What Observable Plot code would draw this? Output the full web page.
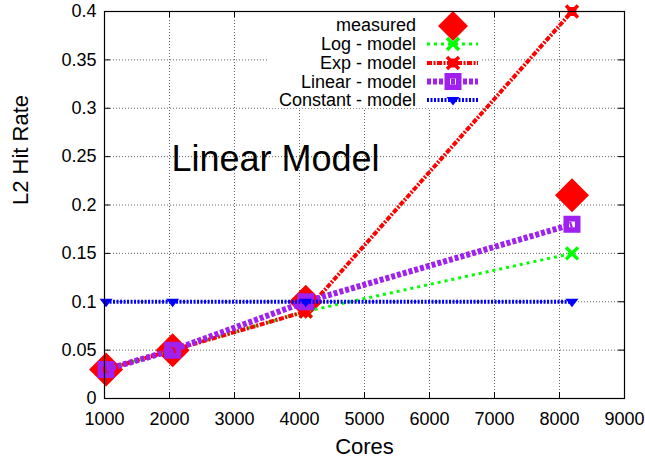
<!DOCTYPE html>
<html>
<head>
<meta charset="utf-8">
<script src="https://cdn.jsdelivr.net/npm/d3@7"></script>
<script src="https://cdn.jsdelivr.net/npm/@observablehq/plot@0.6"></script>
<style>
  html, body { margin: 0; padding: 0; background: #fff; }
  #chart { width: 645px; height: 462px; }
</style>
</head>
<body>
<div id="chart"></div>
<script>
// ---- data ----
const cores = [1024, 2048, 4096, 8192];
const measured = [0.03, 0.05, 0.1, 0.21];
const logModel = [0.03, 0.05, 0.09, 0.15];
const expModel = [0.03, 0.05, 0.09, 0.4];
const linearModel = [0.03, 0.05, 0.1, 0.18];
const constantModel = [0.1, 0.1, 0.1, 0.1];
const xTicks = [1000, 2000, 3000, 4000, 5000, 6000, 7000, 8000, 9000];
const yTicks = [0, 0.05, 0.1, 0.15, 0.2, 0.25, 0.3, 0.35, 0.4];
const legendNames = ["measured", "Log - model", "Exp - model", "Linear - model", "Constant - model"];

const rows = cores.map((c, i) => ({
  cores: c, measured: measured[i], log: logModel[i], exp: expModel[i],
  linear: linearModel[i], constant: constantModel[i]
}));

// ---- custom symbols (size = PI r^2) ----
const rad = s => Math.sqrt(s / Math.PI);
const diamondSym = { draw(c, s) { const h = rad(s); c.moveTo(0, -h); c.lineTo(h, 0); c.lineTo(0, h); c.lineTo(-h, 0); c.closePath(); } };
const crossSym = { draw(c, s) { const h = rad(s); c.moveTo(-h, -h); c.lineTo(h, h); c.moveTo(h, -h); c.lineTo(-h, h); } };
const squareSym = { draw(c, s) { const h = rad(s); c.moveTo(-h, -h); c.lineTo(h, -h); c.lineTo(h, h); c.lineTo(-h, h); c.closePath(); } };
const ringSym = { draw(c, s) { const h = rad(s); const k = h * 0.35;
  c.moveTo(-h, -h); c.lineTo(h, -h); c.lineTo(h, h); c.lineTo(-h, h); c.closePath();
  c.moveTo(-k, -k); c.lineTo(-k, k); c.lineTo(k, k); c.lineTo(k, -k); c.closePath(); } };
const triDownSym = { draw(c, s) { const h = rad(s); c.moveTo(-h, -0.45 * h); c.lineTo(h, -0.45 * h); c.lineTo(0, 0.85 * h); c.closePath(); } };

const RED = "#ff0000", GREEN = "#00ff00", PURPLE = "#a020f0", BLUE = "#0000ff";

const styles = {
  log: { stroke: GREEN, strokeWidth: 3, strokeDasharray: "3,4" },
  exp: { stroke: RED, strokeWidth: 4, strokeDasharray: "5,1.5,2,1.5" },
  linear: { stroke: PURPLE, strokeWidth: 6, strokeDasharray: "4,2" },
  constant: { stroke: BLUE, strokeWidth: 4, strokeDasharray: "2,1.5" }
};

const mL = 104, mR = 21, mT = 11, mB = 64;
const pw = 645 - mL - mR, ph = 462 - mT - mB;
const grid = { stroke: "#666", strokeWidth: 1, strokeDasharray: "1,2" };

const chart = Plot.plot({
  width: 645, height: 462,
  marginLeft: mL, marginRight: mR, marginTop: mT, marginBottom: mB,
  x: { domain: [1000, 9000] },
  y: { domain: [0, 0.4] },
  style: { fontFamily: "'Liberation Sans', Arial, Helvetica, sans-serif", fontSize: "18px", color: "black", background: "white" },
  marks: [
    Plot.ruleX(xTicks.slice(1, -1), grid),
    Plot.ruleY(yTicks.slice(1, -1), grid),
    Plot.ruleX(xTicks, { insetTop: ph - 6, stroke: "black" }),
    Plot.ruleX(xTicks, { insetBottom: ph - 6, stroke: "black" }),
    Plot.ruleY(yTicks, { insetRight: pw - 6, stroke: "black" }),
    Plot.ruleY(yTicks, { insetLeft: pw - 6, stroke: "black" }),
    Plot.axisX({ ticks: xTicks, tickSize: 0, tickPadding: 14, tickFormat: d => String(d), label: null, fontSize: 18 }),
    Plot.axisY({ ticks: yTicks, tickSize: 0, tickPadding: 8, tickFormat: d => String(d), label: null, fontSize: 18 }),
    Plot.text(["Cores"], { frameAnchor: "bottom", dy: 55, fontSize: 22 }),
    Plot.text(["L2 Hit Rate"], { frameAnchor: "left", dx: -84, rotate: -90, fontSize: 22 }),
    Plot.text(["Linear Model"], { frameAnchor: "top-left", dx: 171, dy: 134, textAnchor: "middle", fontSize: 36 }),
    // measured
    Plot.dot(rows, { x: "cores", y: "measured", symbol: diamondSym, r: 17, fill: RED }),
    // log
    Plot.line(rows, { x: "cores", y: "log", ...styles.log, strokeLinecap: "butt" }),
    Plot.dot(rows, { x: "cores", y: "log", symbol: crossSym, r: 6, stroke: GREEN, strokeWidth: 3.5, fill: "none" }),
    // exp
    Plot.line(rows, { x: "cores", y: "exp", ...styles.exp, strokeLinecap: "butt" }),
    Plot.dot(rows, { x: "cores", y: "exp", symbol: squareSym, r: 4.5, fill: RED }),
    Plot.dot(rows, { x: "cores", y: "exp", symbol: crossSym, r: 6, stroke: RED, strokeWidth: 3.5, fill: "none" }),
    // linear
    Plot.line(rows, { x: "cores", y: "linear", ...styles.linear, strokeLinecap: "butt" }),
    Plot.dot(rows, { x: "cores", y: "linear", symbol: ringSym, r: 8.5, fill: PURPLE }),
    // constant
    Plot.line(rows, { x: "cores", y: "constant", ...styles.constant, strokeLinecap: "butt" }),
    Plot.dot(rows, { x: "cores", y: "constant", symbol: triDownSym, r: 6.5, fill: BLUE }),
    Plot.frame({ stroke: "black", strokeWidth: 1.2 })
  ]
});

document.getElementById("chart").appendChild(chart);

// ---- legend (inside plot, white box) ----
const svg = d3.select(chart.tagName.toLowerCase() === "svg" ? chart : chart.querySelector("svg"));
const lg = svg.append("g").attr("class", "legend");
lg.append("rect").attr("x", 268).attr("y", 12).attr("width", 212).attr("height", 96).attr("fill", "white");
const rowY = [25, 44, 63, 81.5, 100];
const keys = [null, "log", "exp", "linear", "constant"];
legendNames.forEach((name, i) => {
  const y = rowY[i];
  lg.append("text").attr("x", 416).attr("y", y).attr("dy", "0.35em")
    .attr("text-anchor", "end").attr("font-size", 18).attr("fill", "black").text(name);
  const k = keys[i];
  if (k) {
    const st = styles[k];
    lg.append("line").attr("x1", 427).attr("x2", 478).attr("y1", y).attr("y2", y)
      .attr("stroke", st.stroke).attr("stroke-width", st.strokeWidth)
      .attr("stroke-dasharray", st.strokeDasharray);
  }
  const sym = (type, r) => d3.symbol().type(type).size(Math.PI * r * r)();
  const g = lg.append("g").attr("transform", `translate(453,${y})`);
  if (i === 0) g.append("path").attr("d", sym(diamondSym, 15)).attr("fill", RED).attr("transform", "translate(0,1)");
  if (k === "log") g.append("path").attr("d", sym(crossSym, 6)).attr("stroke", GREEN).attr("stroke-width", 3.5).attr("fill", "none");
  if (k === "exp") {
    g.append("path").attr("d", sym(squareSym, 4.5)).attr("fill", RED);
    g.append("path").attr("d", sym(crossSym, 6)).attr("stroke", RED).attr("stroke-width", 3.5).attr("fill", "none");
  }
  if (k === "linear") g.append("path").attr("d", sym(ringSym, 8.5)).attr("fill", PURPLE);
  if (k === "constant") g.append("path").attr("d", sym(triDownSym, 6.5)).attr("fill", BLUE);
});
// move legend behind data marks
const node = lg.node();
const firstDot = svg.node().querySelector('[aria-label="dot"]');
if (firstDot) firstDot.parentNode.insertBefore(node, firstDot);
</script>
</body>
</html>
